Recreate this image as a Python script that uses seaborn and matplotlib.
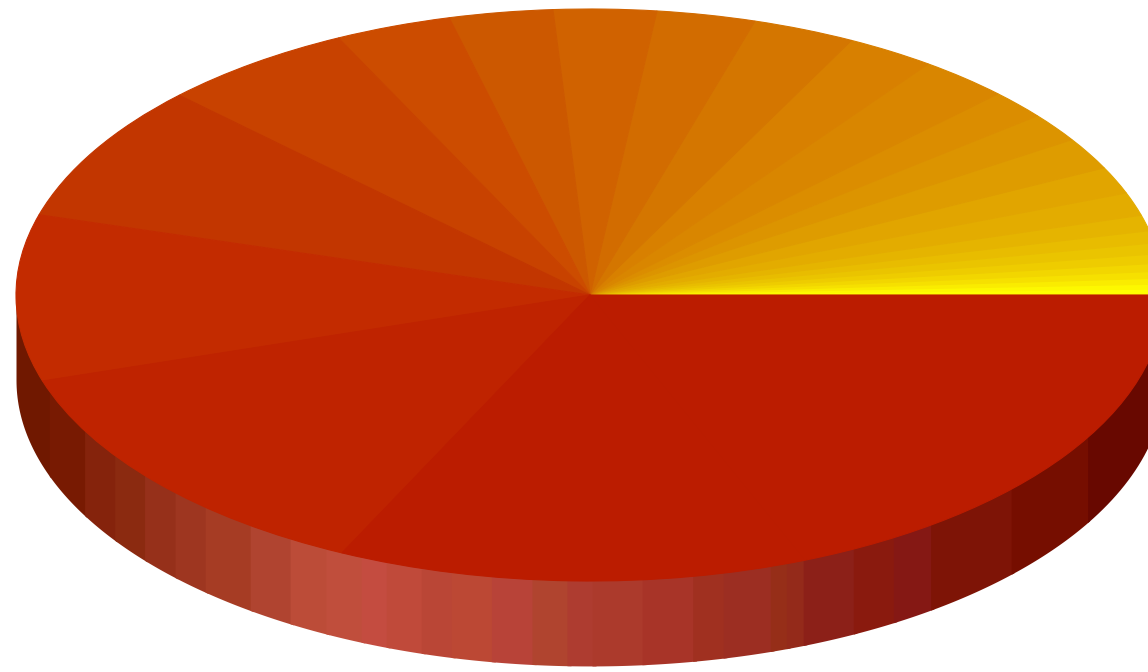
import matplotlib
matplotlib.use("Agg")
import matplotlib.pyplot as plt
import numpy as np
import seaborn as sns

# slice sizes in degrees, counterclockwise from the yellow edge
slice_sizes = [0.5, 0.7, 1.0, 1.2, 1.4, 1.6, 1.9, 2.2, 2.5, 3.2, 4.7, 5.5, 6.5, 5.9, 5.9, 9.2,
               9.0, 10.4, 10.0, 10.4, 10.5, 11.8, 19.7, 28.0, 33.8, 46.9, 47.6, 68.0]
slice_colors = ["#FFFF00", "#FFFF00", "#FDF800", "#FAEC00", "#F6E000", "#F2D600", "#EECC00", "#EAC400",
                "#E8BC00", "#E5B400", "#E3AC00", "#E1A500", "#DE9C00", "#DC9400", "#DB8D00", "#D98600",
                "#D88000", "#D47600", "#D26C00", "#D06200", "#CC5800", "#CC4C00", "#C84200", "#C23600",
                "#C32B00", "#BF2300", "#BB1C00", "#BB1C00"]

# side wall shading, band edges in degrees round the rim
wall_angles = [180, 199.6, 208.3, 214.1, 219.1, 223.7, 227.9, 233.7, 238.5, 242.6, 246.5, 249.2, 252.9, 256,
               260.1, 264.2, 267.7, 270.2, 275.2, 280.3, 283.4, 288.3, 290, 291.8, 297.3, 301.9, 306.4,
               317.2, 330.1, 360]
wall_colors = ["#701800", "#781A02", "#85230C", "#8B2A10", "#96301A", "#9E3620", "#A63C24", "#B04430",
               "#BC4C38", "#C04E3C", "#C44C40", "#C04A3A", "#BA4636", "#BC4834", "#B84338", "#B0442F",
               "#AE3C30", "#AC3A2C", "#A83428", "#A03020", "#9C2E22", "#962E18", "#942A1A", "#8C2018",
               "#8A1A0E", "#851814", "#7E1406", "#760E00", "#680800"]
wall_depth = 0.297

sns.set_theme(style="white")

fig = plt.figure(figsize=(11.48, 6.72), dpi=100, facecolor="white")
ax = fig.add_axes([0, 0, 1, 1])

for start, end, color in zip(wall_angles[:-1], wall_angles[1:], wall_colors):
    # small overlap so no white seam shows between bands, top is hidden under the pie
    theta = np.radians(np.linspace(start, end + 0.4, 30))
    ax.fill_between(np.cos(theta), 0, np.sin(theta) - wall_depth,
                    color=color, linewidth=0, zorder=1)

wedges, _ = ax.pie(slice_sizes, colors=sns.color_palette(slice_colors), startangle=0, counterclock=True,
                   wedgeprops={"linewidth": 0.8, "zorder": 2})
# hide the seams between neighbouring slices
for wedge in wedges:
    wedge.set_edgecolor(wedge.get_facecolor())

# squash the circle into the tilted ellipse, right side runs off the canvas
ax.set_aspect("auto")
ax.set_xlim(-590 / 574, 558 / 574)
ax.set_ylim(-377 / 286, 295 / 286)
ax.axis("off")

fig.savefig("out.png", dpi=100)
